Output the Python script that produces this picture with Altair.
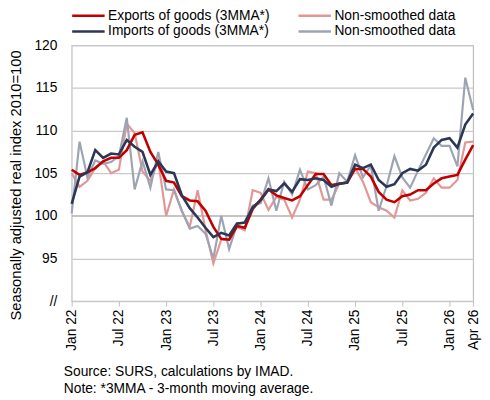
import altair as alt
import pandas as pd

months = [d.strftime("%b %y") for d in pd.date_range("2022-01-01", "2026-04-01", freq="MS")]

exports_3mma = [105.4, 104.8, 105.1, 105.6, 106.4, 106.8, 106.8, 107.7, 109.5, 109.8, 107.5, 106.0,
                104.1, 103.9, 102.3, 101.8, 101.7, 100.6, 98.7, 97.3, 97.2, 98.8, 98.6, 100.8,
                101.9, 103.1, 102.4, 102.1, 101.8, 102.3, 103.6, 104.9, 104.9, 103.6, 103.75, 103.9,
                105.5, 105.5, 104.6, 102.8, 101.9, 101.6, 102.3, 102.5, 103.0, 103.0, 103.8, 104.4,
                104.6, 104.8, 106.6, 108.3]
exports_raw = [105.0, 103.4, 104.1, 105.6, 106.4, 105.0, 105.4, 110.8, 109.7, 105.2, 104.1, 106.4,
               100.0, 103.1, 100.5, 98.7, 103.0, 98.4, 94.4, 97.2, 97.2, 98.7, 98.3, 103.0,
               102.7, 100.7, 102.2, 101.9, 99.8, 101.9, 105.2, 105.0, 101.9, 101.9, 103.8, 103.9,
               105.6, 104.0, 101.6, 101.0, 100.6, 99.8, 103.0, 101.8, 102.0, 102.7, 104.4, 103.3,
               103.3, 104.2, 108.6, 108.7]
imports_3mma = [101.4, 104.6, 105.1, 107.7, 106.8, 107.3, 107.2, 108.9, 108.1, 107.5, 104.8, 106.4,
                105.2, 105.0, 102.4, 100.9, 99.8, 98.6, 97.5, 98.0, 97.7, 99.1, 99.2, 101.0,
                101.8, 103.1, 102.9, 103.8, 102.8, 104.3, 104.2, 104.4, 104.2, 103.4, 103.75, 103.9,
                106.0, 105.6, 106.0, 104.2, 103.4, 103.7, 105.0, 105.5, 105.3, 106.0, 108.0, 108.9,
                109.1, 108.0, 110.7, 112.0]
imports_raw = [100.3, 108.7, 104.5, 106.5, 106.1, 106.3, 107.0, 111.5, 103.1, 106.4, 103.3, 107.5,
               103.1, 103.0, 100.6, 98.5, 98.8, 97.9, 95.0, 100.0, 96.1, 99.0, 99.3, 101.2,
               101.5, 104.4, 100.6, 104.0, 102.5, 105.4, 103.1, 103.6, 104.6, 101.2, 105.0, 104.0,
               107.1, 104.5, 105.9, 100.6, 103.5, 107.0, 104.5, 103.3, 105.3, 107.2, 109.1, 108.2,
               108.2, 105.8, 116.2, 112.4]

series_keys = ["Exports of goods (3MMA*)", "Exports non-smoothed",
               "Imports of goods (3MMA*)", "Imports non-smoothed"]
series_colors = ["#C00000", "#E39696", "#2C3756", "#9CA4B4"]
tick_labels = ["Jan 22", "Jul 22", "Jan 23", "Jul 23", "Jan 24", "Jul 24",
               "Jan 25", "Jul 25", "Jan 26", "Apr 26"]
y_ticks = [90, 95, 100, 105, 110, 115, 120]
notes = ["Source: SURS, calculations by IMAD.", "Note: *3MMA - 3-month moving average."]

rows = []
for key, vals in zip(series_keys, [exports_3mma, exports_raw, imports_3mma, imports_raw]):
    for m, v in zip(months, vals):
        rows.append({"month": m, "series": key, "value": v})
df = pd.DataFrame(rows)

x_enc = alt.X("month:O", sort=months, scale=alt.Scale(type="point", padding=0),
              axis=alt.Axis(values=tick_labels, labelAngle=-90, title=None, domain=False,
                            ticks=True, tickSize=5, tickColor="#BFBFBF", labelPadding=3,
                            labelFontSize=14, labelColor="#000000", grid=False))
y_enc = alt.Y("value:Q", scale=alt.Scale(domain=[90, 120], nice=False, zero=False),
              axis=alt.Axis(values=y_ticks, labelExpr="datum.value == 90 ? '//' : datum.label",
                            title="Seasonally adjusted real index 2010=100", titleFontSize=15,
                            titleFontWeight="normal", titleColor="#000000",
                            titleX=-52, titleY=142, titleAngle=-90, titleAlign="center",
                            titleBaseline="alphabetic",
                            ticks=False, domain=False, labelPadding=15, labelFontSize=14,
                            labelColor="#000000", grid=True,
                            gridColor={"condition": {"test": "datum.value == 100", "value": "#8C8C8C"},
                                       "value": "#C9C9C9"},
                            gridWidth=1.2))
color_enc = alt.Color("series:N", scale=alt.Scale(domain=series_keys, range=series_colors),
                      legend=alt.Legend(title=None, orient="none", legendX=10, legendY=-37,
                                        direction="horizontal", columns=2,
                                        symbolType="M-3,0L3,0", symbolSize=121,
                                        symbolStrokeWidth=2.5, labelFontSize=14, labelLimit=400,
                                        labelColor="#000000", labelOffset=13, columnPadding=23,
                                        rowPadding=2,
                                        labelExpr="indexof(datum.label, 'non-smoothed') >= 0 ? 'Non-smoothed data' : datum.label"))

base = alt.Chart(df)
raw_lines = base.transform_filter("indexof(datum.series, 'non-smoothed') >= 0").mark_line(
    strokeWidth=2.2).encode(x=x_enc, y=y_enc, color=color_enc, detail="series:N")
smooth_lines = base.transform_filter("indexof(datum.series, 'non-smoothed') < 0").mark_line(
    strokeWidth=2.6).encode(x=x_enc, y=y_enc, color=color_enc, detail="series:N")

note1 = alt.Chart(alt.Data(values=[{}])).mark_text(align="left", baseline="alphabetic",
                                                   fontSize=14, color="#000000").encode(
    x=alt.value(-8), y=alt.value(336), text=alt.value(notes[0]))
note2 = alt.Chart(alt.Data(values=[{}])).mark_text(align="left", baseline="alphabetic",
                                                   fontSize=14, color="#000000").encode(
    x=alt.value(-8), y=alt.value(353), text=alt.value(notes[1]))

chart = alt.layer(raw_lines, smooth_lines, note1, note2).properties(
    width=408, height=260,
    autosize=alt.AutoSizeParams(type="none"),
    padding={"left": 64.7, "top": 34.7, "right": 9, "bottom": 97},
).configure(font="Liberation Sans").configure_view(stroke="#BFBFBF", strokeWidth=1.2)

chart.save("out.html", embed_options={"renderer": "svg", "actions": False})
